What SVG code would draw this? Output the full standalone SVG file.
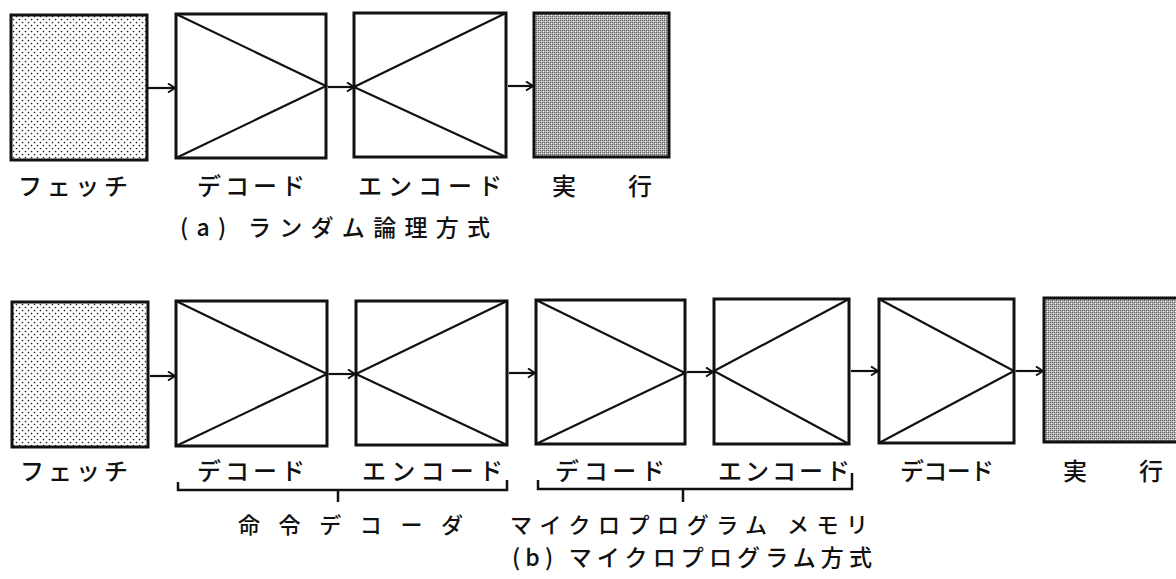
<svg xmlns="http://www.w3.org/2000/svg" width="1176" height="579" viewBox="0 0 1176 579">
<defs>
<pattern id="dots" width="6" height="6" patternUnits="userSpaceOnUse">
<rect width="6" height="6" fill="#fff"/>
<circle cx="1.5" cy="1.5" r="0.85" fill="#222"/>
<circle cx="4.5" cy="4.5" r="0.85" fill="#222"/>
</pattern>
<pattern id="gray" width="4" height="4" patternUnits="userSpaceOnUse">
<rect width="4" height="4" fill="#b4b4b4"/>
<rect x="0" y="0" width="1" height="1" fill="#555"/>
<rect x="2" y="2" width="1" height="1" fill="#555"/>
<rect x="2" y="0" width="1" height="1" fill="#6a6a6a"/>
<rect x="0" y="2" width="1" height="1" fill="#6a6a6a"/>
<rect x="1" y="1" width="1" height="1" fill="#f2f2f2"/>
<rect x="3" y="3" width="1" height="1" fill="#f2f2f2"/>
</pattern>
<marker id="arr" markerUnits="userSpaceOnUse" markerWidth="12" markerHeight="12" refX="9" refY="5" orient="auto">
<path d="M2,0.5 L9,5 L2,9.5" fill="none" stroke="#111" stroke-width="2"/>
</marker>
</defs>
<style>
.box{fill:#fff;stroke:#111;stroke-width:3}
.fetch{fill:url(#dots);stroke:#111;stroke-width:3}
.exec{fill:url(#gray);stroke:#111;stroke-width:3}
.diag{fill:none;stroke:#111;stroke-width:2.2}
.conn{stroke:#111;stroke-width:2.2;fill:none;marker-end:url(#arr)}
.br{stroke:#111;stroke-width:2.5;fill:none}
.lbl{font-family:"Noto Sans CJK JP","Noto Sans CJK SC",sans-serif;font-size:24px;font-weight:500;fill:#111}
.sub{font-family:"Noto Sans CJK JP","Noto Sans CJK SC",sans-serif;font-size:22px;font-weight:500;fill:#111}
.cap{font-family:"Noto Sans CJK JP","Noto Sans CJK SC",sans-serif;font-size:23px;font-weight:500;fill:#111}
</style>

<!-- (a) row -->
<g id="a-fetch"><rect class="fetch" x="11" y="15" width="136" height="145"/>
<text class="lbl" x="18" y="195" textLength="110" lengthAdjust="spacing">フェッチ</text></g>
<g id="a-decode"><rect class="box" x="176" y="14" width="150" height="144"/>
<path class="diag" d="M176,14 L326,86 L176,158"/>
<text class="lbl" x="197" y="195" textLength="108" lengthAdjust="spacing">デコード</text></g>
<g id="a-encode"><rect class="box" x="354" y="13" width="152" height="144"/>
<path class="diag" d="M506,13 L354,87 L506,157"/>
<text class="lbl" x="358" y="195" textLength="144" lengthAdjust="spacing">エンコード</text></g>
<g id="a-exec"><rect class="exec" x="534" y="13" width="135" height="144"/>
<text class="lbl" x="552" y="195">実</text><text class="lbl" x="628" y="195">行</text></g>
<g id="a-caption"><text class="cap" x="180" y="236" textLength="310" lengthAdjust="spacing">(a) ランダム論理方式</text></g>

<!-- (b) row -->
<g id="b-fetch"><rect class="fetch" x="12" y="302" width="136" height="145"/>
<text class="lbl" x="20" y="480" textLength="108" lengthAdjust="spacing">フェッチ</text></g>
<g id="b-decode1"><rect class="box" x="176" y="301" width="151" height="145"/>
<path class="diag" d="M176,301 L327,374 L176,446"/>
<text class="lbl" x="197" y="480" textLength="108" lengthAdjust="spacing">デコード</text></g>
<g id="b-encode1"><rect class="box" x="356" y="301" width="151" height="144"/>
<path class="diag" d="M507,301 L356,374 L507,445"/>
<text class="lbl" x="362" y="480" textLength="141" lengthAdjust="spacing">エンコード</text></g>
<g id="b-decode2"><rect class="box" x="536" y="300" width="149" height="144"/>
<path class="diag" d="M536,300 L685,373 L536,444"/>
<text class="lbl" x="555" y="480" textLength="110" lengthAdjust="spacing">デコード</text></g>
<g id="b-encode2"><rect class="box" x="714" y="299" width="135" height="145"/>
<path class="diag" d="M849,299 L714,371 L849,444"/>
<text class="lbl" x="718" y="480" textLength="132" lengthAdjust="spacing">エンコード</text></g>
<g id="b-decode3"><rect class="box" x="879" y="299" width="135" height="144"/>
<path class="diag" d="M879,299 L1014,371 L879,443"/>
<text class="lbl" x="900" y="480" textLength="94" lengthAdjust="spacing">デコード</text></g>
<g id="b-exec"><rect class="exec" x="1044" y="298" width="136" height="144"/>
<text class="lbl" x="1063" y="480">実</text><text class="lbl" x="1139" y="480">行</text></g>

<g id="b-bracket1"><path class="br" d="M178,482 V490 H507 V480 M338,490 V502"/>
<text class="sub" x="238" y="533" textLength="225" lengthAdjust="spacing">命令デコーダ</text></g>
<g id="b-bracket2"><path class="br" d="M538,480 V489 H852 V473 M683,489 V502"/>
<text class="sub" x="510" y="533" textLength="358" lengthAdjust="spacing">マイクロプログラム メモリ</text></g>
<g id="b-caption"><text class="cap" x="512" y="566" textLength="360" lengthAdjust="spacing">(b) マイクロプログラム方式</text></g>

<g id="connectors">
<line class="conn" x1="148" y1="88" x2="175" y2="88"/>
<line class="conn" x1="328" y1="87" x2="354" y2="87"/>
<line class="conn" x1="508" y1="86" x2="533" y2="86"/>
<line class="conn" x1="150" y1="376" x2="175" y2="376"/>
<line class="conn" x1="329" y1="374" x2="355" y2="374"/>
<line class="conn" x1="509" y1="373" x2="535" y2="373"/>
<line class="conn" x1="687" y1="372" x2="713" y2="372"/>
<line class="conn" x1="851" y1="371" x2="878" y2="371"/>
<line class="conn" x1="1016" y1="371" x2="1043" y2="371"/>
</g>
</svg>
